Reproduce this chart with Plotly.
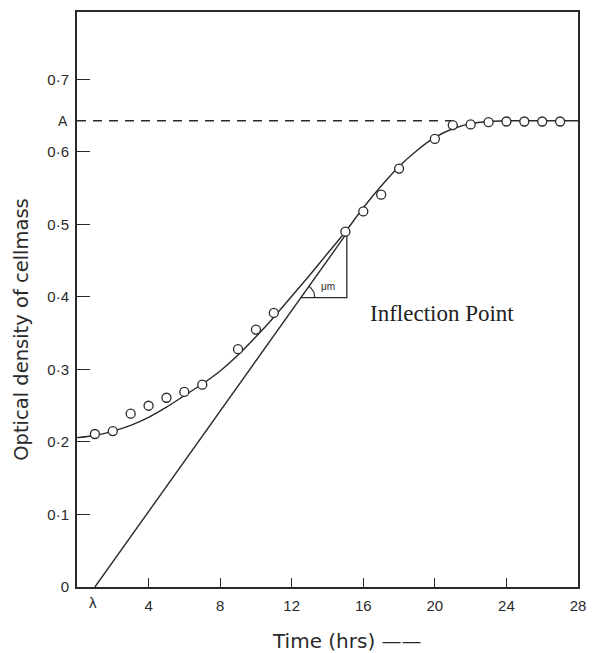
import numpy as np
import plotly.graph_objects as go

# ---- data ----
time_obs = [1, 2, 3, 4, 5, 6, 7, 9, 10, 11, 15, 16, 17, 18, 20, 21, 22, 23, 24, 25, 26, 27]
od_obs = [0.211, 0.215, 0.239, 0.250, 0.261, 0.269, 0.279, 0.328, 0.355, 0.378, 0.490,
          0.518, 0.541, 0.577, 0.618, 0.637, 0.638, 0.641, 0.642, 0.642, 0.642, 0.642]

curve_t = [0, 1, 2, 3, 4, 5, 6, 7, 8, 9, 10, 11, 12, 13, 14, 15, 16, 17, 18, 19, 20, 21, 22, 23, 24, 26, 28]
curve_y = [0.206, 0.209, 0.215, 0.223, 0.234, 0.248, 0.264, 0.280, 0.298, 0.320, 0.345, 0.372,
           0.401, 0.430, 0.460, 0.490, 0.523, 0.553, 0.580, 0.602, 0.620, 0.632, 0.639, 0.642,
           0.643, 0.643, 0.643]

asymptote_A = 0.643
lag_time = 1.0
inflection_t, inflection_y = 15.08, 0.488
triangle_base_y = 0.399

x_ticks = [4, 8, 12, 16, 20, 24, 28]
y_ticks = [0, 0.1, 0.2, 0.3, 0.4, 0.5, 0.6, 0.7]
y_ticktext = ["0", "0·1", "0·2", "0·3", "0·4", "0·5", "0·6", "0·7"]

X_RANGE = [0, 28]
Y_RANGE = [0, 0.793]

INK = "#2a2a2a"
FONT = "Liberation Sans"
TFONT = "DejaVu Sans"

fig = go.Figure()

# asymptote dashed line
fig.add_trace(go.Scatter(x=[0, 21], y=[asymptote_A, asymptote_A], mode="lines",
                         line=dict(color=INK, width=1.3, dash="9px,7px"), hoverinfo="skip"))

# fitted curve
fig.add_trace(go.Scatter(x=curve_t, y=curve_y, mode="lines", line_shape="spline",
                         line=dict(color=INK, width=1.4), hoverinfo="skip"))

# tangent line
fig.add_trace(go.Scatter(x=[lag_time, inflection_t], y=[0, inflection_y], mode="lines",
                         line=dict(color=INK, width=1.4), hoverinfo="skip"))

# slope triangle
slope = inflection_y / (inflection_t - lag_time)
tri_left_t = lag_time + triangle_base_y / slope
fig.add_trace(go.Scatter(x=[inflection_t, inflection_t, tri_left_t],
                         y=[inflection_y, triangle_base_y, triangle_base_y], mode="lines",
                         line=dict(color=INK, width=1.3), hoverinfo="skip"))

# angle arc (pixel geometry converted to data units)
px_per_t = 501 / (X_RANGE[1] - X_RANGE[0])
px_per_y = 575 / (Y_RANGE[1] - Y_RANGE[0])
ang = np.arctan2(slope * px_per_y, px_per_t)
th = np.linspace(0, ang, 20)
r = 14
fig.add_trace(go.Scatter(x=tri_left_t + r * np.cos(th) / px_per_t,
                         y=triangle_base_y + r * np.sin(th) / px_per_y, mode="lines",
                         line=dict(color=INK, width=1.1), hoverinfo="skip"))

# observed points
fig.add_trace(go.Scatter(x=time_obs, y=od_obs, mode="markers",
                         marker=dict(symbol="circle", size=9, color="white",
                                     line=dict(color=INK, width=1.3)), hoverinfo="skip"))

fig.update_layout(
    width=592, height=653,
    margin=dict(l=77, r=14, t=12, b=66, autoexpand=False),
    paper_bgcolor="white", plot_bgcolor="white",
    showlegend=False,
    font=dict(family=FONT, color=INK, size=15),
)
fig.update_xaxes(range=X_RANGE, tickvals=x_ticks, ticks="inside", ticklen=9, tickwidth=1.3,
                 tickcolor=INK, showgrid=False, zeroline=False, showline=True, linewidth=2,
                 linecolor=INK, mirror=True, automargin=False, ticklabelstandoff=4,
                 tickfont=dict(size=15, family=FONT))
fig.update_yaxes(range=Y_RANGE, tickvals=y_ticks, ticktext=y_ticktext, ticks="inside",
                 ticklen=13, tickwidth=1.3, tickcolor=INK, showgrid=False, zeroline=False,
                 showline=True, linewidth=2, linecolor=INK, mirror=True, automargin=False,
                 ticklabelstandoff=3, tickfont=dict(size=15, family=FONT))

# extra axis labels
fig.add_annotation(x=0, y=asymptote_A, xref="x", yref="y", text="A", showarrow=False,
                   xanchor="right", xshift=-7, font=dict(size=14, family=FONT))
fig.add_annotation(x=lag_time, y=0, xref="x", yref="y", text="λ", showarrow=False,
                   yanchor="top", yshift=-5, xshift=-2, font=dict(size=15, family=FONT))
fig.add_annotation(x=(tri_left_t + inflection_t) / 2 + 0.25, y=triangle_base_y + 0.015,
                   xref="x", yref="y", text="μm", showarrow=False,
                   font=dict(size=10, family=FONT))
fig.add_annotation(x=16.25, y=0.377, xref="x", yref="y", text="Inflection Point",
                   showarrow=False, xanchor="left",
                   font=dict(size=23, family="Liberation Serif", color="#222"))

# axis titles
fig.add_annotation(x=-0.1098, y=0.449, xref="paper", yref="paper",
                   text="Optical density of cellmass", textangle=-90, showarrow=False,
                   xanchor="center", yanchor="middle",
                   font=dict(size=19.5, family=TFONT))
fig.add_annotation(x=0.385, y=-0.094, xref="paper", yref="paper", text="Time (hrs) ——",
                   xanchor="left", yanchor="middle", showarrow=False,
                   font=dict(size=20, family=TFONT))

fig.write_html("out.html", config={"displayModeBar": False},
               post_script="document.body.style.margin='0px';")
